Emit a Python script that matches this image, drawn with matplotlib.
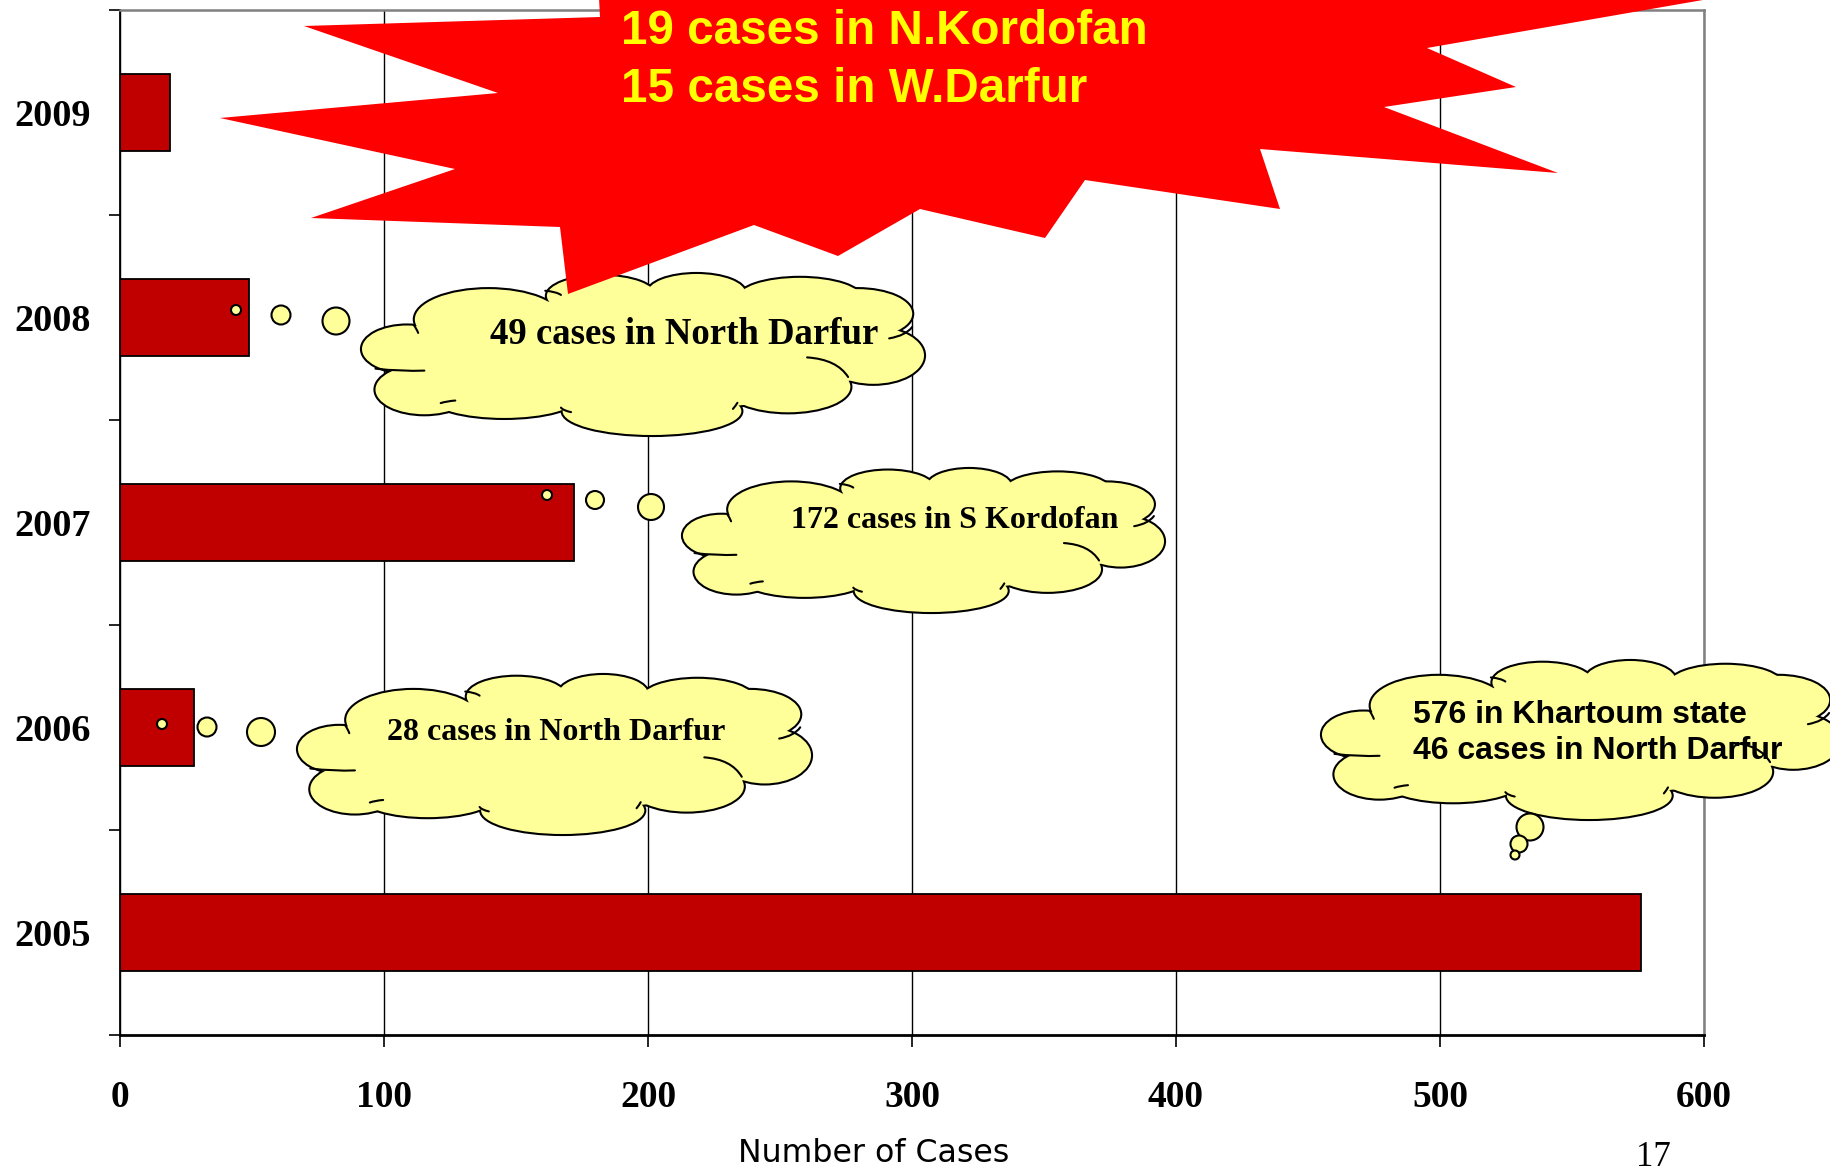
import matplotlib
matplotlib.use("Agg")
import matplotlib.pyplot as plt
from matplotlib.patches import Ellipse, Polygon, Circle, PathPatch
from matplotlib.path import Path

# ------------------------------------------------------------------ data
years = ["2005", "2006", "2007", "2008", "2009"]
cases = [576, 28, 172, 49, 19]
x_ticks = [0, 100, 200, 300, 400, 500, 600]

star_lines = ["19 cases in N.Kordofan", "15 cases in W.Darfur"]
note_2008 = "49 cases in North Darfur"
note_2007 = "172 cases in S Kordofan"
note_2006 = "28 cases in North Darfur"
note_2005 = "576 in Khartoum state\n46 cases in North Darfur"

# ------------------------------------------------------------------ style
W, H = 1830, 1171
BAR = "#C00000"
PALE = "#FFFF99"
SERIF = ["Liberation Serif", "DejaVu Serif"]
SANS = ["Liberation Sans", "DejaVu Sans"]

# lobes of a PowerPoint-like cloud, in unit box coords (u, v, ru, rv), v downwards
LOBES = [
    (0.225, 0.282, 0.131, 0.188), (0.080, 0.466, 0.080, 0.146),
    (0.111, 0.718, 0.087, 0.153), (0.253, 0.765, 0.131, 0.129),
    (0.516, 0.852, 0.159, 0.148), (0.758, 0.701, 0.111, 0.158),
    (0.910, 0.506, 0.090, 0.176), (0.882, 0.247, 0.097, 0.153),
    (0.779, 0.153, 0.111, 0.129), (0.595, 0.118, 0.087, 0.118),
    (0.426, 0.136, 0.097, 0.125), (0.502, 0.494, 0.415, 0.353),
]
# little inner strokes of the cloud shape: start, control, end (unit coords)
INNER = [
    ((0.792, 0.518), (0.845, 0.530), (0.865, 0.640)),
    ((0.024, 0.588), (0.070, 0.606), (0.111, 0.600)),
    ((0.938, 0.400), (0.968, 0.382), (0.979, 0.329)),
    ((0.140, 0.802), (0.150, 0.790), (0.166, 0.786)),
    ((0.372, 0.858), (0.358, 0.848), (0.354, 0.830)),
    ((0.668, 0.800), (0.665, 0.818), (0.660, 0.838)),
    ((0.326, 0.104), (0.346, 0.110), (0.354, 0.130)),
    ((0.092, 0.316), (0.097, 0.340), (0.100, 0.366)),
]

# starburst outline in figure pixels (y down)
STAR = [(304, 26), (600, 17), (596, -60), (1200, -80), (1720, -3),
        (1427, 48), (1516, 87), (1384, 107), (1558, 173), (1260, 149),
        (1280, 209), (1085, 180), (1045, 238), (920, 209), (838, 256),
        (754, 225), (568, 294), (560, 227), (311, 218), (455, 169),
        (220, 118), (498, 93)]


def cloud(ax, box, lw=1.5, z=5):
    x0, y0, x1, y1 = box
    w, h = x1 - x0, y1 - y0
    # outlined lobes first, then the same lobes unoutlined on top
    for k, (ec, l) in enumerate([("black", 2 * lw), ("none", 0)]):
        for u, v, ru, rv in LOBES:
            ax.add_patch(Ellipse((x0 + u * w, y0 + v * h), 2 * ru * w, 2 * rv * h,
                                 facecolor=PALE, edgecolor=ec, linewidth=l,
                                 zorder=z + 0.1 * k))
    for stroke in INNER:
        pts = [(x0 + u * w, y0 + v * h) for u, v in stroke]
        ax.add_patch(PathPatch(Path(pts, [Path.MOVETO, Path.CURVE3, Path.CURVE3]),
                               facecolor="none", edgecolor="black",
                               linewidth=lw, capstyle="round", zorder=z + 0.15))


def bubbles(ax, spots, z=5):
    for x, y, r in spots:
        ax.add_patch(Circle((x, y), r, facecolor=PALE, edgecolor="black",
                            linewidth=1.5, zorder=z + 0.2))


fig = plt.figure(figsize=(W / 100, H / 100), dpi=100)
ax = fig.add_axes([120 / W, 1 - 1035 / H, (1704 - 120) / W, (1035 - 10) / H])

pos = list(range(len(years)))
ax.barh(pos, cases, height=0.38, color=BAR, edgecolor="black", linewidth=1.3,
        zorder=3)

ax.set_xlim(0, 600)
ax.set_ylim(-0.5, len(years) - 0.5)
ax.set_xticks(x_ticks)
ax.set_xticklabels([str(t) for t in x_ticks], fontsize=27, fontweight="bold",
                   family=SERIF)
ax.tick_params(axis="x", length=8.5, width=1.2, pad=24, direction="out")

ax.set_yticks([p - 0.5 for p in pos] + [len(years) - 0.5])
ax.set_yticklabels([])
ax.tick_params(axis="y", which="major", length=8, width=1.2, direction="out")
ax.set_yticks(pos, minor=True)
ax.set_yticklabels(years, minor=True, fontsize=27.5, fontweight="bold",
                   family=SERIF)
ax.tick_params(axis="y", which="minor", length=0, pad=21)

ax.xaxis.grid(True, color="black", linewidth=1.0)
ax.set_axisbelow(True)
for side in ("top", "right"):
    ax.spines[side].set_color("#808080")
    ax.spines[side].set_linewidth(1.8)
ax.spines["left"].set_linewidth(1.3)
ax.spines["bottom"].set_linewidth(2.0)

fig.text(874 / W, 1 - 1153 / H, "Number of Cases", fontsize=22.8,
         family=["DejaVu Sans"], ha="center", va="center")
fig.text(1653 / W, 1 - 1157 / H, "17", fontsize=25, family=SERIF,
         ha="center", va="center")

# ---------------------------------------------------------- call-out layer
ov = fig.add_axes([0, 0, 1, 1], zorder=5)
ov.set_xlim(0, W)
ov.set_ylim(H, 0)
ov.set_axis_off()
ov.patch.set_alpha(0)

cloud(ov, (362, 274, 924, 435))
bubbles(ov, [(236, 310, 5), (281, 315, 9.5), (336, 321, 13.5)])
ov.text(684, 335, note_2008, fontsize=26.5, fontweight="bold", family=SERIF,
        ha="center", va="center", zorder=6)

cloud(ov, (683, 469, 1164, 612))
bubbles(ov, [(547, 495, 5), (595, 500, 9), (651, 507, 13)])
ov.text(955, 520, note_2007, fontsize=23, fontweight="bold", family=SERIF,
        ha="center", va="center", zorder=6)

cloud(ov, (298, 675, 811, 834))
bubbles(ov, [(162, 724, 5), (207, 727, 9.5), (261, 732, 14)])
ov.text(556, 732, note_2006, fontsize=23, fontweight="bold", family=SERIF,
        ha="center", va="center", zorder=6)

cloud(ov, (1322, 661, 1840, 819))
bubbles(ov, [(1530, 827, 13.5), (1519, 844, 8.5), (1515, 855, 4.5)])
ov.text(1413, 733, note_2005, fontsize=23, fontweight="bold", family=SANS,
        ha="left", va="center", linespacing=1.25, zorder=6)

ov.add_patch(Polygon(STAR, closed=True, facecolor="#FF0000", edgecolor="none",
                     zorder=8))
for i, line in enumerate(star_lines):
    ov.text(621, 44 + 58 * i, line, fontsize=34.3, fontweight="bold",
            family=SANS, color="#FFFF00", ha="left", va="baseline", zorder=9)

fig.savefig("out.png", dpi=100)
